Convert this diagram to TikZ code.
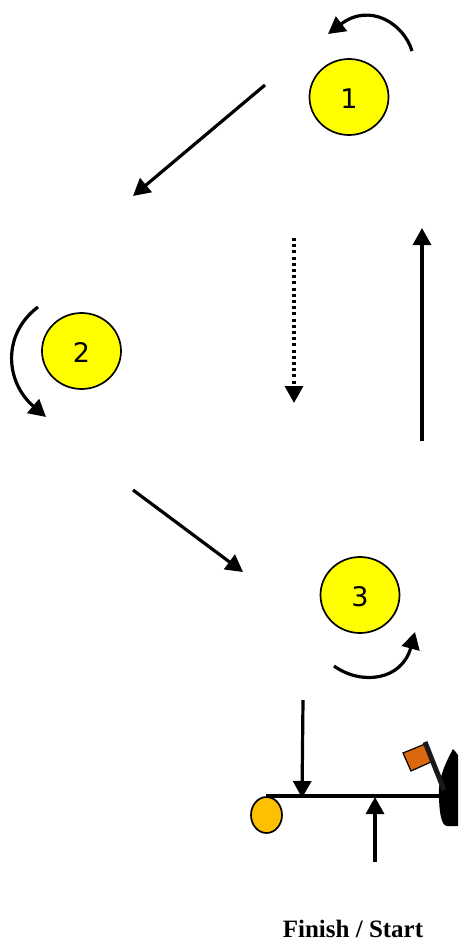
\documentclass[tikz,border=0pt]{standalone}
\usepackage{fontspec}
\setmainfont{Liberation Serif}
\newfontfamily\digitfont{DejaVu Sans}
\usetikzlibrary{arrows.meta,shapes.geometric}
\definecolor{ballyellow}{RGB}{255,255,0}
\definecolor{ballgold}{RGB}{255,192,0}
\definecolor{flagorange}{RGB}{219,104,13}
\tikzset{
  ball/.style={draw=black,line width=1.7pt,fill=ballyellow,ellipse,inner sep=0pt,minimum width=79pt,minimum height=76pt,text height=23pt,text depth=0pt,font=\digitfont\fontsize{27}{27}\selectfont},
  arr/.style={draw=black,line width=3.2pt,-{Triangle[width=18pt,length=17pt]}},
  dotarr/.style={arr,line width=3.2pt,dash pattern=on 3pt off 3.2pt},
}
\begin{document}
\begin{tikzpicture}[x=1pt,y=-1pt]
\useasboundingbox (0,0) rectangle (458,941);
\begin{scope}
\clip (0,0) rectangle (458,941);
\fill[black] (453,749) .. controls (446,762) and (438,778) .. (439,795) .. controls (439,810) and (441,826) .. (447,826) -- (470,826) -- (470,790) .. controls (468,775) and (460,755) .. (453,749) -- cycle;
\end{scope}
\node[ball] (one) at (349,97) {1};
\node[ball] (two) at (81.5,351) {2};
\node[ball] (three) at (360,595) {3};
\node[draw=black,line width=1.7pt,fill=ballgold,ellipse,inner sep=0pt,minimum width=31pt,minimum height=36pt] (tee) at (266.5,815) {};
\coordinate (a1s) at (412,51);
\coordinate (a1e) at (328,34);
\coordinate (a2s) at (38,307);
\coordinate (a2e) at (46,417);
\coordinate (a3s) at (334,666);
\coordinate (a3e) at (415,632);
\coordinate (l1s) at (265,85);
\coordinate (l1e) at (133,196);
\coordinate (l2s) at (133,490);
\coordinate (l2e) at (243,572);
\coordinate (l3s) at (422,441);
\coordinate (l3e) at (422,228);
\coordinate (l4s) at (294,238);
\coordinate (l4e) at (294,403);
\coordinate (l5s) at (303,700);
\coordinate (l5e) at (302,798);
\coordinate (l6s) at (375,862);
\coordinate (l6e) at (375,797);
\coordinate (lineL) at (266,796);
\coordinate (lineR) at (441,796);
\coordinate (poleT) at (425,742);
\coordinate (poleB) at (444,790);
\draw[arr] (a1s) .. controls (404,24) and (370,2) .. (a1e);
\draw[arr] (a2s) .. controls (2,334) and (5,382) .. (a2e);
\draw[arr] (a3s) .. controls (362,686) and (402,680) .. (a3e);
\draw[arr] (l1s) -- (l1e);
\draw[arr] (l2s) -- (l2e);
\draw[arr] (l3s) -- (l3e);
\draw[dotarr] (l4s) -- (l4e);
\draw[black,line width=3.2pt] (lineL) -- (lineR);
\draw[arr] (l5s) -- (l5e);
\draw[arr] (l6s) -- (l6e);
\draw[draw=black,line width=1.2pt,fill=flagorange] (403,753) -- (425,744) -- (431,762) -- (411,771) -- cycle;
\draw[color=black!90,line width=5pt] (poleT) -- (poleB);
\node[font=\bfseries\fontsize{25}{25}\selectfont,inner sep=0pt,anchor=base] (cap) at (353,937) {Finish / Start};
\end{tikzpicture}
\end{document}
